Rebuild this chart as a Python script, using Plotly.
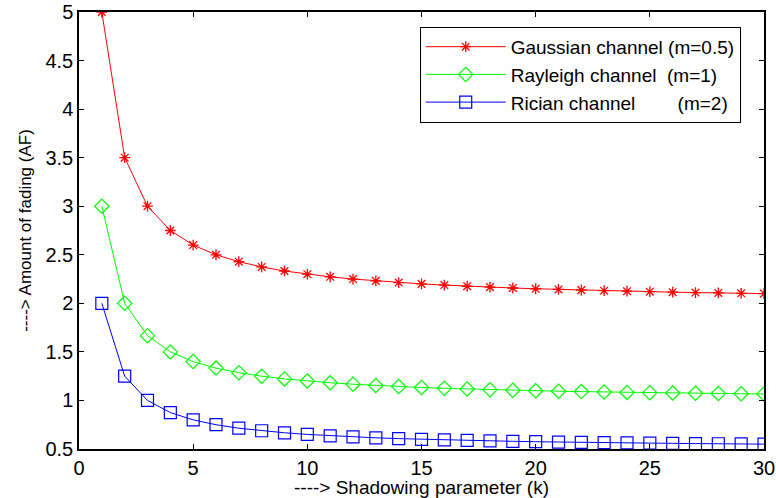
import plotly.graph_objects as go

k = list(range(1, 31))
gaussian = [5, 3.5, 3, 2.75, 2.6, 2.5, 2.429, 2.375, 2.333, 2.3, 2.273, 2.25, 2.231, 2.214, 2.2,
            2.188, 2.176, 2.167, 2.158, 2.15, 2.143, 2.136, 2.13, 2.125, 2.12, 2.115, 2.111, 2.107, 2.103, 2.1]
rayleigh = [3, 2, 1.667, 1.5, 1.4, 1.333, 1.286, 1.25, 1.222, 1.2, 1.182, 1.167, 1.154, 1.143, 1.133,
            1.125, 1.118, 1.111, 1.105, 1.1, 1.095, 1.091, 1.087, 1.083, 1.08, 1.077, 1.074, 1.071, 1.069, 1.067]
rician = [2, 1.25, 1.0, 0.875, 0.8, 0.75, 0.714, 0.688, 0.667, 0.65, 0.636, 0.625, 0.615, 0.607, 0.6,
          0.594, 0.588, 0.583, 0.579, 0.575, 0.571, 0.568, 0.565, 0.563, 0.56, 0.558, 0.556, 0.554, 0.552, 0.55]
names = ["Gaussian channel (m=0.5)",
         "Rayleigh channel\u00a0\u00a0(m=1)",
         "Rician channel\u00a0\u00a0\u00a0\u00a0\u00a0\u00a0\u00a0\u00a0(m=2)"]

fig = go.Figure()
fig.add_trace(go.Scatter(x=k, y=gaussian, name=names[0], mode="lines+markers",
                         line=dict(color="#ff0000", width=1),
                         marker=dict(symbol="asterisk-open", size=9, color="#ff0000",
                                     line=dict(color="#ff0000", width=1.3))))
fig.add_trace(go.Scatter(x=k, y=rayleigh, name=names[1], mode="lines+markers",
                         line=dict(color="#00ff00", width=1),
                         marker=dict(symbol="diamond-open", size=11, color="#00ff00",
                                     line=dict(color="#00ff00", width=1.2))))
fig.add_trace(go.Scatter(x=k, y=rician, name=names[2], mode="lines+markers",
                         line=dict(color="#0000ff", width=1),
                         marker=dict(symbol="square-open", size=12, color="#0000ff",
                                     line=dict(color="#0000ff", width=1.2))))

axis_common = dict(showgrid=False, zeroline=False, showline=True, linecolor="black",
                   linewidth=1.5, mirror="ticks", ticks="inside", ticklen=5,
                   tickcolor="black", tickfont=dict(size=20, color="black"),
                   automargin=False)

fig.update_layout(
    width=776, height=498,
    margin=dict(l=79, r=12, t=12, b=49, autoexpand=False),
    paper_bgcolor="white", plot_bgcolor="white",
    font=dict(family="Liberation Sans, Arial, sans-serif", color="black"),
    xaxis=dict(range=[0, 30], tickvals=[0, 5, 10, 15, 20, 25, 30],
               title=dict(text="----> Shadowing parameter (k)", font=dict(size=19), standoff=2),
               **axis_common),
    yaxis=dict(range=[0.5, 5], tickvals=[0.5, 1, 1.5, 2, 2.5, 3, 3.5, 4, 4.5, 5],
               ticktext=["0.5", "1", "1.5", "2", "2.5", "3", "3.5", "4", "4.5", "5"],
               title=dict(text="----> Amount of fading (AF)", font=dict(size=17), standoff=9),
               **axis_common),
    legend=dict(x=0.966, y=0.966, xanchor="right", yanchor="top",
                bgcolor="white", bordercolor="black", borderwidth=1,
                font=dict(size=19), tracegroupgap=0, itemwidth=80),
    showlegend=True,
)

fig.write_html("out.html")
